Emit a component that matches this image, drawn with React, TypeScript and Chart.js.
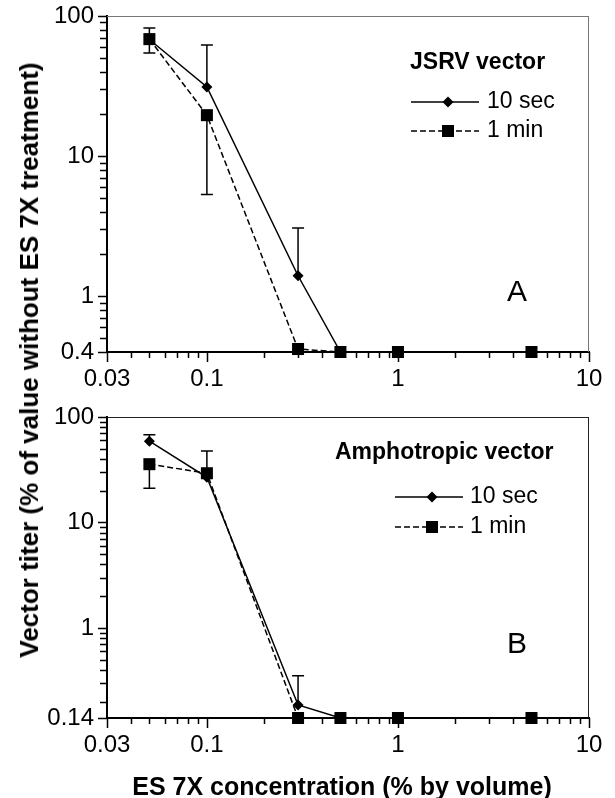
import React, { useEffect, useRef } from 'react';
import { Chart, registerables } from 'chart.js';

Chart.register(...registerables);

// ---------- data ----------
const concentrations = [0.05, 0.1, 0.3, 0.5, 1, 5];
const seriesNames = ['10 sec', '1 min'];
const panelTitles = ['JSRV vector', 'Amphotropic vector'];
const panelLetters = ['A', 'B'];

const jsrv10sec = [68, 31.2, 1.4, 0.4, 0.4, 0.4];
const jsrv10secUpper = [null, 62, 3.07, null, null, null];
const jsrv10secLower = [null, null, null, null, null, null];
const jsrv1min = [68.4, 19.6, 0.42, 0.4, 0.4, 0.4];
const jsrv1minUpper = [82, null, null, null, null, null];
const jsrv1minLower = [54.4, 5.32, null, null, null, null];

const ampho10sec = [59, 26.8, 0.186, 0.14, 0.14, 0.14];
const ampho10secUpper = [68, 47.7, 0.353, null, null, null];
const ampho10secLower = [null, null, null, null, null, null];
const ampho1min = [35.7, 29.3, 0.14, 0.14, 0.14, 0.14];
const ampho1minUpper = [null, null, null, null, null, null];
const ampho1minLower = [21.1, null, null, null, null, null];

const xTickLabels = [0.03, 0.1, 1, 10];
const yTickLabelsA = [0.4, 1, 10, 100];
const yTickLabelsB = [0.14, 1, 10, 100];

const xTitle = 'ES 7X concentration (% by volume)';
const yTitle = 'Vector titer (% of value without ES 7X treatment)';

// ---------- styling ----------
const FONT = '"Liberation Sans", Arial, Helvetica, sans-serif';

type Arr = (number | null)[];
interface Panel {
  title: string;
  letter: string;
  s10: number[];
  s10Up: Arr;
  s10Down: Arr;
  s1: number[];
  s1Up: Arr;
  s1Down: Arr;
  yMin: number;
  yMax: number;
  yLabels: number[];
  height: number;
  padTop: number;
  xAxisHeight: number;
  frameColor: string;
  legend: { titleX: number; titleY: number; x0: number; x1: number; mx: number; tx: number; y1: number; y2: number };
  letterPos: { x: number; y: number };
}

const panels: Panel[] = [
  {
    title: panelTitles[0], letter: panelLetters[0],
    s10: jsrv10sec, s10Up: jsrv10secUpper, s10Down: jsrv10secLower,
    s1: jsrv1min, s1Up: jsrv1minUpper, s1Down: jsrv1minLower,
    yMin: 0.4, yMax: 100, yLabels: yTickLabelsA,
    height: 390, padTop: 16, xAxisHeight: 38, frameColor: '#777',
    legend: { titleX: 410, titleY: 63, x0: 411, x1: 479, mx: 448, tx: 487, y1: 102, y2: 131 },
    letterPos: { x: 517, y: 293 },
  },
  {
    title: panelTitles[1], letter: panelLetters[1],
    s10: ampho10sec, s10Up: ampho10secUpper, s10Down: ampho10secLower,
    s1: ampho1min, s1Up: ampho1minUpper, s1Down: ampho1minLower,
    yMin: 0.14, yMax: 100, yLabels: yTickLabelsB,
    height: 408, padTop: 27, xAxisHeight: 80, frameColor: '#222',
    legend: { titleX: 335, titleY: 63, x0: 395, x1: 463, mx: 432, tx: 470, y1: 107, y2: 137 },
    letterPos: { x: 517, y: 255 },
  },
];

function logTicks(min: number, max: number): number[] {
  const out: number[] = [];
  const d0 = Math.floor(Math.log10(min));
  const d1 = Math.ceil(Math.log10(max));
  for (let d = d0; d <= d1; d++) {
    for (let k = 1; k <= 9; k++) {
      const v = Number((k * Math.pow(10, d)).toPrecision(6));
      if (v >= min * 0.9999 && v <= max * 1.0001) out.push(v);
    }
  }
  if (!out.some((v) => Math.abs(v - min) < min * 1e-6)) out.unshift(min);
  if (!out.some((v) => Math.abs(v - max) < max * 1e-6)) out.push(max);
  return out;
}

const isLabel = (v: number, list: number[]) => list.some((l) => Math.abs(l - v) < l * 1e-6);

function drawMarker(ctx: CanvasRenderingContext2D, style: string, x: number, y: number) {
  ctx.beginPath();
  if (style === 'rect') {
    ctx.rect(x - 6, y - 6, 12, 12);
  } else {
    ctx.moveTo(x, y - 5.5);
    ctx.lineTo(x + 5.5, y);
    ctx.lineTo(x, y + 5.5);
    ctx.lineTo(x - 5.5, y);
    ctx.closePath();
  }
  ctx.fill();
}

function makePlugin(p: Panel) {
  return {
    id: 'panelDecor',
    beforeDatasetsDraw(chart: any) {
      const ctx: CanvasRenderingContext2D = chart.ctx;
      const xs = chart.scales.x;
      const ys = chart.scales.y;
      const sets: [number[], Arr, Arr][] = [
        [p.s10, p.s10Up, p.s10Down],
        [p.s1, p.s1Up, p.s1Down],
      ];
      ctx.save();
      ctx.strokeStyle = '#000';
      ctx.lineWidth = 1.5;
      sets.forEach(([vals, up, down]) => {
        concentrations.forEach((c, i) => {
          const px = xs.getPixelForValue(c);
          const py = ys.getPixelForValue(vals[i]);
          [up[i], down[i]].forEach((e) => {
            if (e == null) return;
            const ey = ys.getPixelForValue(e);
            ctx.beginPath();
            ctx.moveTo(px, py);
            ctx.lineTo(px, ey);
            ctx.moveTo(px - 6, ey);
            ctx.lineTo(px + 6, ey);
            ctx.stroke();
          });
        });
      });
      ctx.restore();
    },
    afterDraw(chart: any) {
      const ctx: CanvasRenderingContext2D = chart.ctx;
      const { left, right, top, bottom } = chart.chartArea;
      const xs = chart.scales.x;
      const ys = chart.scales.y;
      ctx.save();
      // frame top/right
      ctx.strokeStyle = p.frameColor;
      ctx.lineWidth = 1;
      ctx.beginPath();
      ctx.moveTo(left, top + 0.5);
      ctx.lineTo(right, top + 0.5);
      ctx.moveTo(right - 0.5, top);
      ctx.lineTo(right - 0.5, bottom);
      ctx.stroke();
      // tick marks
      ctx.strokeStyle = '#000';
      ctx.lineWidth = 1.5;
      ctx.beginPath();
      logTicks(0.03, 10).forEach((v) => {
        const px = Math.round(xs.getPixelForValue(v)) + 0.5;
        const len = isLabel(v, xTickLabels) ? 10 : 6;
        ctx.moveTo(px, bottom);
        ctx.lineTo(px, bottom + len);
      });
      logTicks(p.yMin, p.yMax).forEach((v) => {
        const py = Math.round(ys.getPixelForValue(v)) + 0.5;
        const len = isLabel(v, p.yLabels) ? 9 : 7;
        ctx.moveTo(left, py);
        ctx.lineTo(left - len, py);
      });
      ctx.stroke();
      // legend
      const L = p.legend;
      ctx.fillStyle = '#000';
      ctx.textBaseline = 'middle';
      ctx.textAlign = 'left';
      ctx.font = `bold 23px ${FONT}`;
      ctx.fillText(p.title, L.titleX, L.titleY);
      ctx.font = `23px ${FONT}`;
      const entries = [
        { label: chart.data.datasets[1].label, y: L.y1, dash: [] as number[], style: 'rectRot' },
        { label: chart.data.datasets[0].label, y: L.y2, dash: [6, 3], style: 'rect' },
      ];
      entries.forEach((e) => {
        ctx.setLineDash(e.dash);
        ctx.lineWidth = 1.5;
        ctx.beginPath();
        ctx.moveTo(L.x0, e.y);
        ctx.lineTo(L.x1, e.y);
        ctx.stroke();
        ctx.setLineDash([]);
        drawMarker(ctx, e.style, L.mx, e.y);
        ctx.fillText(e.label, L.tx, e.y);
      });
      // panel letter
      ctx.font = `30px ${FONT}`;
      ctx.textAlign = 'center';
      ctx.fillText(p.letter, p.letterPos.x, p.letterPos.y);
      ctx.restore();
    },
  };
}

function buildConfig(p: Panel): any {
  const tickFont = { family: FONT, size: 24 };
  return {
    type: 'scatter',
    data: {
      datasets: [
        {
          label: seriesNames[1],
          data: concentrations.map((x, i) => ({ x, y: p.s1[i] })),
          showLine: true,
          borderColor: '#000',
          backgroundColor: '#000',
          borderWidth: 1.5,
          borderDash: [6, 3],
          pointStyle: 'rect',
          pointRadius: 8.5,
          pointBorderWidth: 0,
          clip: false,
          order: 0,
        },
        {
          label: seriesNames[0],
          data: concentrations.map((x, i) => ({ x, y: p.s10[i] })),
          showLine: true,
          borderColor: '#000',
          backgroundColor: '#000',
          borderWidth: 1.5,
          pointStyle: 'rectRot',
          pointRadius: 5.5,
          pointBorderWidth: 0,
          clip: false,
          order: 1,
        },
      ],
    },
    options: {
      responsive: false,
      animation: false,
      devicePixelRatio: 1,
      layout: { padding: { left: 0, right: 26, top: p.padTop, bottom: 0 } },
      plugins: { legend: { display: false }, tooltip: { enabled: false } },
      scales: {
        x: {
          type: 'logarithmic',
          min: 0.03,
          max: 10,
          grid: { display: false, drawTicks: false },
          border: { display: true, color: '#000', width: 2 },
          afterBuildTicks: (s: any) => {
            s.ticks = logTicks(0.03, 10).map((v) => ({ value: v }));
          },
          afterFit: (s: any) => {
            s.height = p.xAxisHeight;
            s.paddingLeft = 0;
            s.paddingRight = 0;
          },
          ticks: {
            autoSkip: false,
            maxRotation: 0,
            minRotation: 0,
            padding: 13,
            color: '#000',
            font: tickFont,
            callback: (v: number) => (isLabel(v, xTickLabels) ? String(v) : ''),
          },
        },
        y: {
          type: 'logarithmic',
          min: p.yMin,
          max: p.yMax,
          grid: { display: false, drawTicks: false },
          border: { display: true, color: '#000', width: 2 },
          afterBuildTicks: (s: any) => {
            s.ticks = logTicks(p.yMin, p.yMax).map((v) => ({ value: v }));
          },
          afterFit: (s: any) => {
            s.width = 107;
            s.paddingTop = 0;
            s.paddingBottom = 0;
          },
          ticks: {
            autoSkip: false,
            padding: 13,
            color: '#000',
            font: tickFont,
            callback: (v: number) => (isLabel(v, p.yLabels) ? String(v) : ''),
          },
        },
      },
    },
    plugins: [makePlugin(p)],
  };
}

function PanelChart({ panel, top }: { panel: Panel; top: number }) {
  const ref = useRef<HTMLCanvasElement | null>(null);
  useEffect(() => {
    if (!ref.current) return;
    const chart = new Chart(ref.current, buildConfig(panel));
    return () => chart.destroy();
  }, [panel]);
  return (
    <canvas
      ref={ref}
      width={615}
      height={panel.height}
      style={{ position: 'absolute', left: 0, top, width: 615, height: panel.height }}
    />
  );
}

export default function App() {
  return (
    <div style={{ position: 'absolute', left: 0, top: 0, width: 615, height: 798, background: '#fff', overflow: 'hidden' }}>
      <PanelChart panel={panels[0]} top={0} />
      <PanelChart panel={panels[1]} top={390} />
      <div
        style={{
          position: 'absolute', left: 29, top: 360, transform: 'translate(-50%, -50%) rotate(-90deg)',
          whiteSpace: 'nowrap', font: `bold 26px ${FONT}`, lineHeight: 1, color: '#000',
        }}
      >
        {yTitle}
      </div>
      <div
        style={{
          position: 'absolute', left: 342, top: 786, transform: 'translate(-50%, -50%)',
          whiteSpace: 'nowrap', font: `bold 25px ${FONT}`, lineHeight: 1, color: '#000',
        }}
      >
        {xTitle}
      </div>
    </div>
  );
}
